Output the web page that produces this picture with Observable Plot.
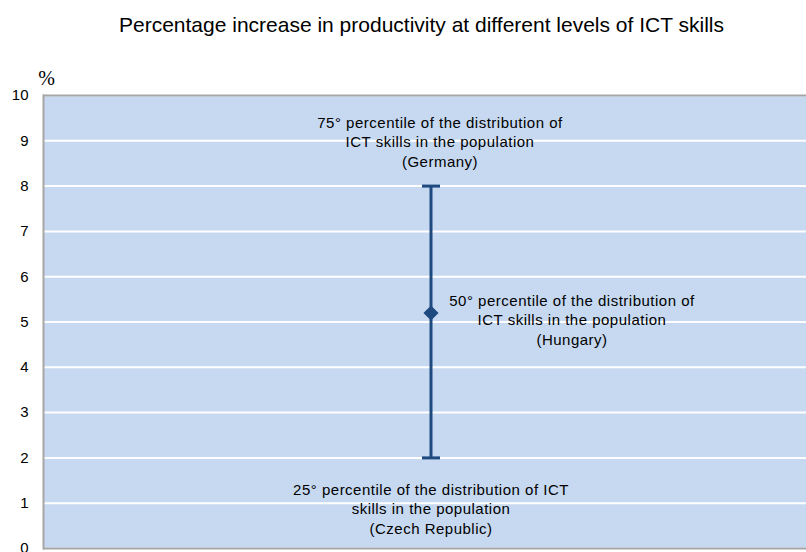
<!DOCTYPE html>
<html>
<head>
<meta charset="utf-8">
<script src="https://cdn.jsdelivr.net/npm/d3@7"></script>
<script src="https://cdn.jsdelivr.net/npm/@observablehq/plot@0.6"></script>
<style>
  html, body { margin: 0; padding: 0; background: white; overflow: hidden; }
  #title { height: 50px; box-sizing: border-box; padding-top: 13px; padding-left: 37px; text-align: center;
           line-height: 24px; font-family: "Liberation Sans", Arial, sans-serif; font-size: 21px; color: #000; white-space: nowrap; }
  .ann, .ann text { letter-spacing: 0.5px; }
</style>
</head>
<body>
<div id="title">Percentage increase in productivity at different levels of ICT skills</div>
<div id="chart"></div>
<script>
const percentiles = ["25°", "50°", "75°"];
const countries = ["Czech Republic", "Hungary", "Germany"];
const values = [2, 5.2, 8];
const yTicks = [0, 1, 2, 3, 4, 5, 6, 7, 8, 9, 10];
const category = "ICT skills";

const rows = percentiles.map((p, i) => ({p, country: countries[i], value: values[i], x: category}));
const low = rows[0], mid = rows[1], high = rows[2];
const labelText = d => `${d.p} percentile of the distribution of\nICT skills in the population\n(${d.country})`;
const labelLow = d => `${d.p} percentile of the distribution of ICT\nskills in the population\n(${d.country})`;

const navy = "#1F4A80";
const capSymbol = { draw(ctx) { ctx.moveTo(-9, 0); ctx.lineTo(9, 0); } };
const font = "Liberation Sans, Arial, sans-serif";
const shift = 5.5;
const labelStyle = { fontSize: 15, lineHeight: 1.3, fill: "black", className: "ann" };

const chart = Plot.plot({
  width: 806,
  height: 502,
  marginLeft: 43,
  marginRight: 0,
  marginTop: 45,
  marginBottom: 4,
  style: { fontFamily: font, background: "white", overflow: "visible" },
  x: { type: "point", domain: [category], axis: null },
  y: { domain: [0, 10], ticks: yTicks, label: null },
  marks: [
    Plot.frame({ fill: "#C6D9F1", stroke: "none" }),
    Plot.gridY(yTicks, { stroke: "white", strokeOpacity: 1, strokeWidth: 2 }),
    Plot.ruleY([0, 10], { stroke: "#A6A6A6", strokeWidth: 2 }),
    Plot.frame({ anchor: "left", stroke: "#A6A6A6", strokeWidth: 2 }),
    Plot.axisY(yTicks, { tickSize: 0, tickPadding: 15, fontSize: 15, fill: "black", label: null }),
    Plot.text(["%"], { frameAnchor: "top-left", text: d => d, textAnchor: "middle", dx: 3, dy: -25, fontSize: 20, fontFamily: "Liberation Serif, serif", fill: "black" }),
    Plot.ruleX([low], { x: "x", y1: low.value, y2: high.value, stroke: navy, strokeWidth: 3, dx: shift }),
    Plot.dot([low, high], { x: "x", y: "value", symbol: capSymbol, r: 9, stroke: navy, strokeWidth: 3, fill: "none", dx: shift }),
    Plot.dot([mid], { x: "x", y: "value", symbol: "diamond2", r: 6.8, fill: navy, stroke: "none", dx: shift }),
    Plot.text([high], { x: "x", y: "value", text: labelText, dx: shift + 9, dy: -45, ...labelStyle }),
    Plot.text([mid], { x: "x", y: "value", text: labelText, dx: shift + 141, dy: 6, ...labelStyle }),
    Plot.text([low], { x: "x", y: "value", text: labelLow, dx: shift, dy: 50, ...labelStyle })
  ]
});
document.getElementById("chart").appendChild(chart);
</script>
</body>
</html>
